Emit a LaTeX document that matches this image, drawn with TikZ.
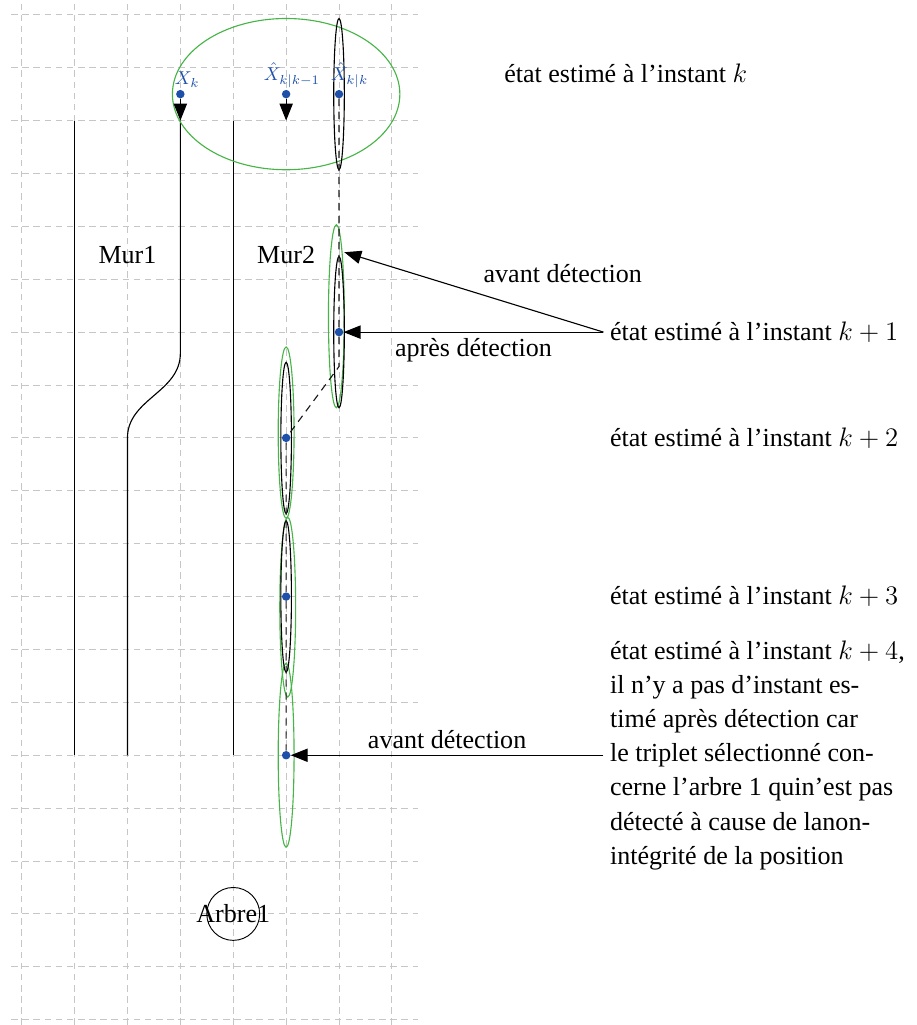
\documentclass[tikz,border=0pt]{standalone}
\usepackage{fontspec}
\setmainfont{Liberation Serif}
\usepackage{xcolor}
\usetikzlibrary{arrows.meta,positioning,shapes.geometric}
\definecolor{ptblue}{RGB}{30,80,170}
\definecolor{ellgreen}{RGB}{70,180,70}

\begin{document}
\begin{tikzpicture}[
    font=\fontsize{14}{18.4}\selectfont,
    grille/.style={dash pattern=on 3.5pt off 2.5pt,gray!45,line width=0.5pt},
    mur/.style={line width=0.6pt},
    pt/.style={circle,fill=ptblue,inner sep=0pt,minimum size=0.16cm},
    lbl/.style={text=ptblue,font=\fontsize{10}{12}\selectfont,inner sep=1pt},
    covb/.style={draw,ellipse,line width=0.6pt,inner sep=0pt,
                 minimum width=0.2cm,minimum height=2.86cm},
    covg/.style={draw=ellgreen,ellipse,line width=0.6pt,inner sep=0pt},
    traj/.style={dash pattern=on 4pt off 3pt,gray!20!black,line width=0.6pt},
    fl/.style={-{Triangle[length=0.32cm,width=0.25cm]},line width=0.6pt},
    etat/.style={anchor=west,align=left}
  ]
  \useasboundingbox (-0.41,-0.1) rectangle (16.91,19.28);
  \draw[grille] (-0.2,-0.1) grid (7.5,19.2);
  % murs
  \coordinate (w3) at (3,17);
  \coordinate (w5) at (5,17);
  \draw[mur] (1,17) -- (1,5);
  \draw[mur] (w3) -- (3,12.6) to[out=-90,in=90] (2,11) -- (2,5);
  \draw[mur] (4,17) -- (4,5);
  \node (mur1) at (2,14.46) {Mur1};
  \node (mur2) at (5,14.46) {Mur2};
  % ellipses
  \node[covg,minimum width=4.3cm,minimum height=2.86cm] (g0) at (5,17.5) {};
  \foreach \n/\x/\y/\h in {g1/5.95/13.3/3.46,g2/5/11.1/3.24,g3/5.03/7.8/3.4,g4/5/5/3.48}{
    \node[covg,minimum width=0.3cm,minimum height=\h cm] (\n) at (\x,\y) {};
  }
  \foreach \n/\x/\y in {b0/6/17.5,b1/6/13,b2/5/11,b3/5/8}{
    \node[covb] (\n) at (\x,\y) {};
  }
  % points
  \node[pt,label={[lbl,xshift=0.13cm]above:$X_k$}] (xk) at (3,17.5) {};
  \node[pt,label={[lbl,xshift=0.11cm]above:$\hat{X}_{k|k-1}$}] (xp) at (5,17.5) {};
  \node[pt,label={[lbl,xshift=0.2cm]above:$\hat{X}_{k|k}$}] (e0) at (6,17.5) {};
  \node[pt] (d1) at (6,13) {};
  \node[pt] (d2) at (5,11) {};
  \node[pt] (d3) at (5,8) {};
  \node[pt] (d4) at (5,5) {};
  \draw[fl] (xk) -- (w3);
  \draw[fl] (xp) -- (w5);
  \draw[traj] (e0) -- (d1) -- ++(0,-0.65) -- (d2) -- (d3) -- (d4);
  % textes
  \node[etat] (t0) at (9,17.9) {état estimé à l'instant $k$};
  \node[etat] (t1) at (11,13) {état estimé à l'instant $k+1$};
  \node[etat] (t2) at (11,11) {état estimé à l'instant $k+2$};
  \node[etat] (t3) at (11,8) {état estimé à l'instant $k+3$};
  \node[etat] (t4) at (11,5) {état estimé à l'instant $k+4$,\\il n'y a pas d'instant es-\\timé après détection car\\le triplet sélectionné con-\\cerne l'arbre 1 quin'est pas\\détecté à cause de lanon-\\intégrité de la position};
  \coordinate (b1top) at ([xshift=0.1cm,yshift=0.07cm]b1.north);
  \node (av1) at (10.23,14.1) {avant détection};
  \draw[fl] (t1.west) -- (b1top);
  \draw[fl] (t1.west) -- node[below]{après détection} (d1);
  \draw[fl] (t4.west) -- node[above]{avant détection} (d4);
  % arbre
  \node[draw,circle,minimum size=1cm,inner sep=0pt,line width=0.5pt] (arbre) at (4,2) {};
  \node (arbretxt) at (arbre) {Arbre1};
\end{tikzpicture}
\end{document}
